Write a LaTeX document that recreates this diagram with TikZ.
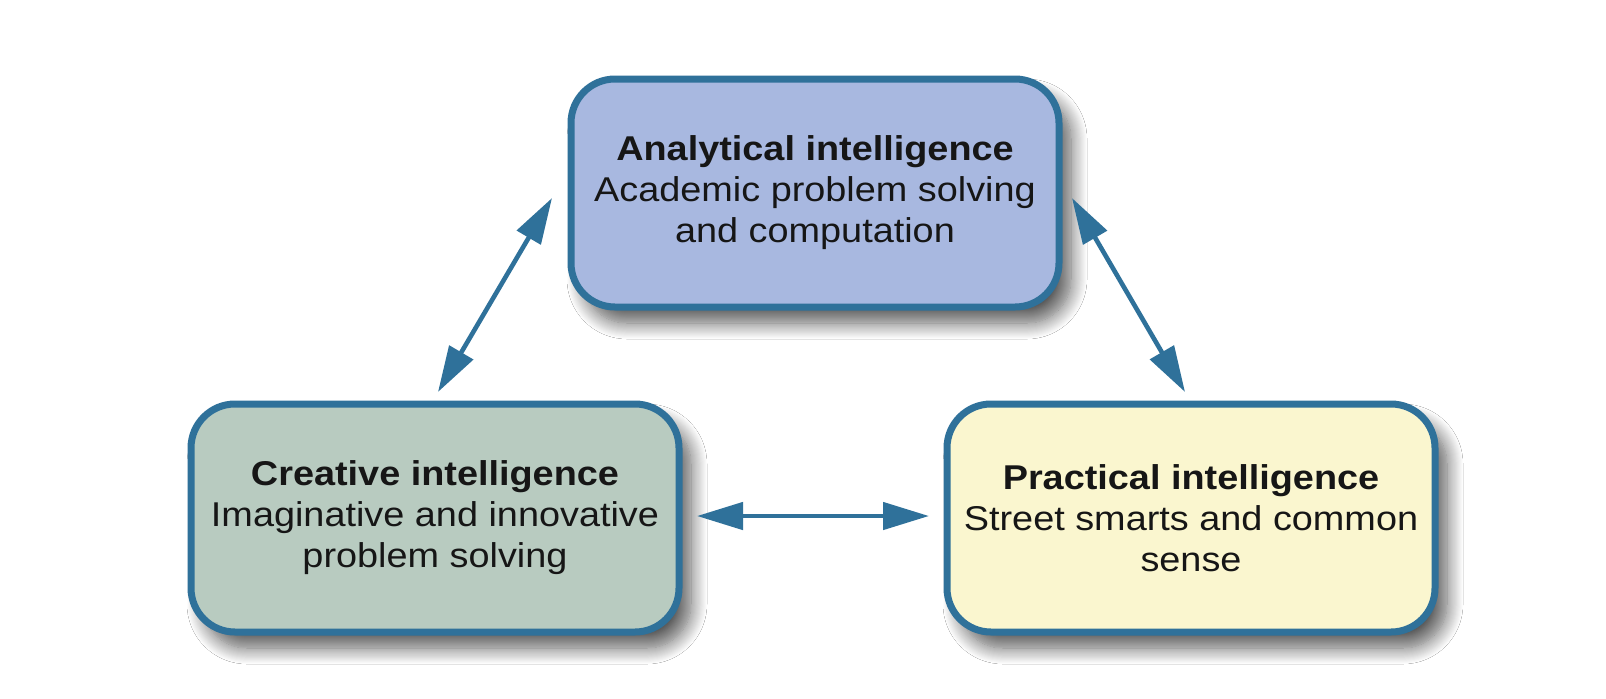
\documentclass[tikz,border=0pt]{standalone}
\usepackage{fontspec}
\setmainfont{Liberation Sans}
\usetikzlibrary{arrows.meta,shadows.blur}
\newcommand{\sx}[1]{\scalebox{1.1}[1]{#1}}
\definecolor{edgeblue}{RGB}{47,113,154}
\definecolor{topfill}{RGB}{168,184,224}
\definecolor{leftfill}{RGB}{184,203,192}
\definecolor{rightfill}{RGB}{250,246,207}
\definecolor{txt}{RGB}{22,22,22}
\begin{document}
\begin{tikzpicture}[x=0.5pt,y=-0.5pt,
  box/.style={draw=edgeblue, line width=3.5pt, rounded corners=22pt,
    minimum width=244pt, minimum height=114pt, inner sep=0pt, align=center,
    font=\fontsize{17.2}{20.5}\selectfont, text=txt,
    blur shadow={shadow xshift=6pt, shadow yshift=-8pt, shadow blur radius=8pt,
      shadow blur steps=16, shadow opacity=65}},
  arr/.style={draw=edgeblue, fill=edgeblue, line width=2.3pt,
    {Triangle[length=23pt,width=13.5pt]}-{Triangle[length=23pt,width=13.5pt]}}]
\fill[white] (0,0) rectangle (1606,698);
\useasboundingbox (0,0) rectangle (1606,698);

\node[box, fill=topfill] (top) at (815,193)
  {\textbf{\sx{Analytical intelligence}}\\\sx{Academic problem solving}\\\sx{and computation}};
\node[box, fill=leftfill] (left) at (435,518)
  {\textbf{\sx{Creative intelligence}}\\\sx{Imaginative and innovative}\\\sx{problem solving}};
\node[box, fill=rightfill] (right) at (1191,518)
  {\textbf{\sx{Practical intelligence}}\\\sx{Street smarts and common}\\\sx{sense}};

\coordinate (la) at (438,392);
\coordinate (lb) at (552,198);
\coordinate (ra) at (1072,198);
\coordinate (rb) at (1185,392);
\coordinate (ma) at (697,516);
\coordinate (mb) at (929,516);

\draw[arr] (la) -- (lb);
\draw[arr] (ra) -- (rb);
\draw[arr] (ma) -- (mb);
\end{tikzpicture}
\end{document}
